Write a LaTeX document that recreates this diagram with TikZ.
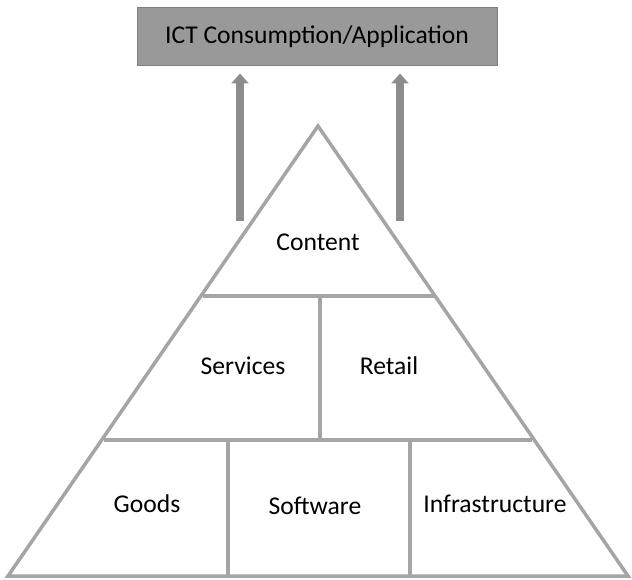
\documentclass[tikz,border=0pt]{standalone}
\usepackage{fontspec}
\setmainfont{Carlito}
\usetikzlibrary{arrows.meta}
\definecolor{boxgray}{HTML}{999999}
\definecolor{edgegray}{HTML}{7F7F7F}
\definecolor{linegray}{HTML}{A5A5A5}
\definecolor{arrowgray}{HTML}{8C8C8C}

\begin{document}
\begin{tikzpicture}[x=1pt,y=-1pt]
    \tikzstyle{layer}=[draw=linegray,line width=3.5pt,line join=miter]
    \tikzstyle{label}=[font=\fontsize{25.6}{30}\selectfont,inner sep=0pt]
    \tikzstyle{top}=[fill=boxgray,draw=edgegray,line width=1pt,minimum width=360pt,minimum height=58pt,font=\fontsize{25.6}{30}\selectfont]
    \tikzstyle{up}=[arrowgray,line width=8pt,-{Triangle[width=17pt,length=10pt]},shorten >=7pt]

    \useasboundingbox (0,0) rectangle (632,580);

    % box on top
    \node[top](ict) at (317,37){ICT Consumption/Application};

    % pyramid outline and its layers
    \coordinate (apex) at (318,126);
    \coordinate (baseL) at (8,576);
    \coordinate (baseR) at (628,576);
    \coordinate (midL) at (203,296);
    \coordinate (midR) at (435,296);
    \coordinate (lowL) at (104,440);
    \coordinate (lowR) at (532,440);
    \draw[layer] (apex) -- (baseR) -- (baseL) -- cycle;
    \draw[layer] (midL) -- (midR);
    \draw[layer] (lowL) -- (lowR);
    \draw[layer] (320,296) -- (320,440);
    \draw[layer] (228,440) -- (228,576);
    \draw[layer] (410,440) -- (410,576);

    \node[label](content) at (318,242){Content};
    \node[label](services) at (243,366){Services};
    \node[label](retail) at (389,366){Retail};
    \node[label](goods) at (147,504){Goods};
    \node[label](software) at (315,506){Software};
    \node[label](infra) at (495,504){Infrastructure};

    % arrows up to the box
    \coordinate (leftFoot) at (240,221);
    \coordinate (rightFoot) at (400,221);
    \draw[up] (leftFoot) -- (leftFoot |- ict.south);
    \draw[up] (rightFoot) -- (rightFoot |- ict.south);

\end{tikzpicture}
\end{document}
